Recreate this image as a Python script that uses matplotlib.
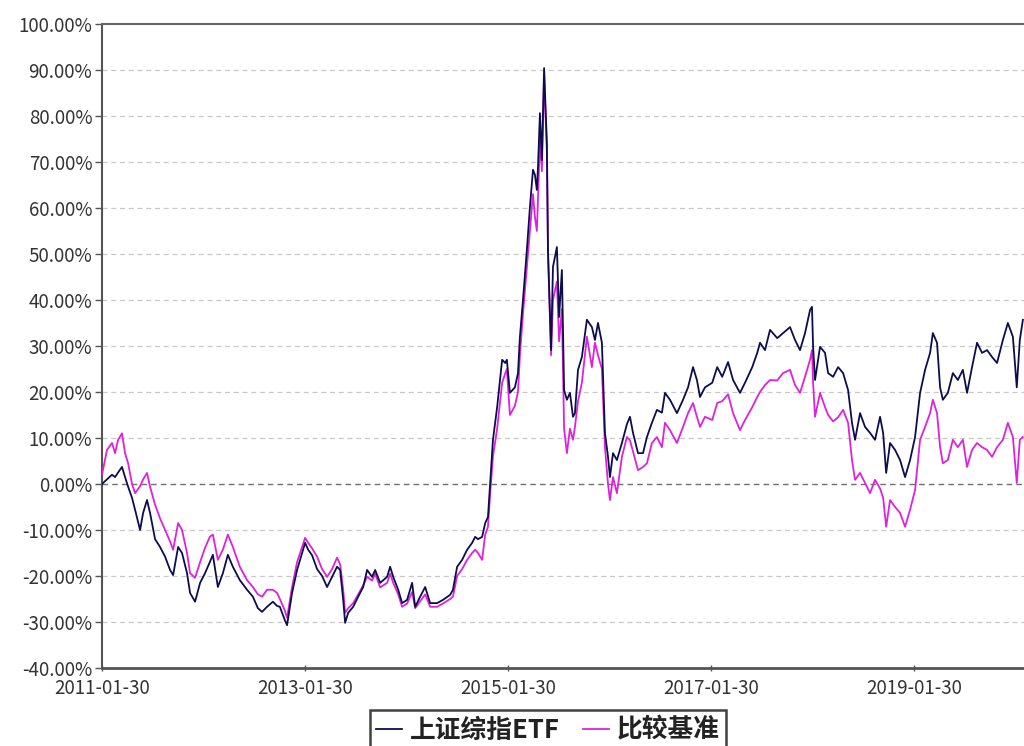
import pandas as pd
import matplotlib
matplotlib.use('Agg')
from matplotlib import pyplot as plt
from matplotlib.ticker import FuncFormatter

plt.rcParams['font.family'] = ['Noto Sans CJK SC', 'DejaVu Sans']

# data (cumulative return, %)
dates = [
    '2011-01-30', '2011-02-17', '2011-03-07', '2011-03-18', '2011-03-29', '2011-04-12', '2011-04-23', '2011-05-04', '2011-05-18', '2011-05-29',
    '2011-06-16', '2011-06-27', '2011-07-11', '2011-07-22', '2011-08-09', '2011-08-27', '2011-09-14', '2011-10-02', '2011-10-13', '2011-10-31',
    '2011-11-14', '2011-12-02', '2011-12-13', '2011-12-31', '2012-01-18',
    '2012-02-04', '2012-02-22', '2012-03-04', '2012-03-22', '2012-04-09', '2012-04-27', '2012-05-15', '2012-06-09', '2012-07-05', '2012-07-26',
    '2012-08-13', '2012-08-28', '2012-09-15', '2012-10-06', '2012-10-21', '2012-10-31', '2012-11-18', '2012-11-26', '2012-12-14', '2013-01-01', '2013-01-19',
    '2013-01-30', '2013-02-10', '2013-02-24', '2013-03-14', '2013-04-01', '2013-04-19', '2013-05-07', '2013-05-25', '2013-06-05', '2013-06-16', '2013-06-23',
    '2013-07-04', '2013-07-22', '2013-08-09', '2013-08-27', '2013-09-10', '2013-09-28', '2013-10-09', '2013-10-27', '2013-11-21', '2013-12-02', '2013-12-13', '2013-12-31', '2014-01-14',
    '2014-02-01', '2014-02-19', '2014-03-02', '2014-03-20', '2014-04-07', '2014-04-25', '2014-05-20', '2014-06-10', '2014-07-06', '2014-07-16', '2014-07-31',
    '2014-08-18', '2014-09-05', '2014-09-23', '2014-10-04', '2014-10-14', '2014-10-29', '2014-11-09', '2014-11-19', '2014-11-27', '2014-12-07', '2014-12-22', '2015-01-09', '2015-01-20', '2015-01-26',
    '2015-02-06', '2015-02-24', '2015-03-07', '2015-03-14', '2015-03-25', '2015-04-08', '2015-04-19', '2015-04-30', '2015-05-07', '2015-05-14', '2015-05-18', '2015-05-25', '2015-06-01', '2015-06-09', '2015-06-19', '2015-06-23',
    '2015-07-04', '2015-07-11', '2015-07-25', '2015-08-02', '2015-08-12', '2015-08-20', '2015-08-30', '2015-09-10', '2015-09-21', '2015-09-28', '2015-10-09', '2015-10-23', '2015-11-10', '2015-11-28', '2015-12-09', '2015-12-20', '2016-01-03', '2016-01-14', '2016-01-25',
    '2016-02-01', '2016-02-12', '2016-02-26', '2016-03-15', '2016-04-02', '2016-04-13', '2016-04-24', '2016-05-12', '2016-05-30', '2016-06-13', '2016-07-01', '2016-07-19', '2016-08-06', '2016-08-17', '2016-09-04', '2016-09-29', '2016-10-21', '2016-11-08', '2016-11-26', '2016-12-10', '2016-12-21', '2017-01-08',
    '2017-02-03', '2017-02-21', '2017-03-11', '2017-04-01', '2017-04-19', '2017-05-14', '2017-06-01', '2017-06-27', '2017-07-15', '2017-07-25', '2017-08-12', '2017-08-30', '2017-09-25', '2017-10-16', '2017-11-10', '2017-11-28', '2017-12-16', '2018-01-03', '2018-01-21', '2018-01-28',
    '2018-02-01', '2018-02-08', '2018-02-26', '2018-03-16', '2018-03-27', '2018-04-14', '2018-05-02', '2018-05-20', '2018-06-07', '2018-06-21', '2018-07-02', '2018-07-20', '2018-08-07', '2018-08-25', '2018-09-12', '2018-09-30', '2018-10-11', '2018-10-22', '2018-11-05', '2018-11-23', '2018-12-11', '2018-12-29', '2019-01-16',
    '2019-02-03', '2019-02-21', '2019-03-11', '2019-03-29', '2019-04-08', '2019-04-23', '2019-05-04', '2019-05-14', '2019-06-01', '2019-06-19', '2019-07-07', '2019-07-25', '2019-08-09', '2019-08-27', '2019-09-14', '2019-10-02', '2019-10-20', '2019-11-07', '2019-11-25', '2019-12-16', '2020-01-03', '2020-01-21', '2020-02-04', '2020-02-15', '2020-02-26',
]

etf_ret = [
    0, 1, 2, 1.5, 2.5, 3.7, 1.5, -0.6, -3, -5.6,
    -10, -6.3, -3.5, -6.3, -12, -13.7, -15.8, -18.7, -19.8, -13.7,
    -15, -19.4, -23.7, -25.6, -21.5,
    -19.5, -17, -15.4, -22.4, -19.4, -15.4, -18, -20.9, -23, -24.5,
    -27, -27.8, -26.7, -25.6, -26.5, -26.7, -29.6, -30.7, -23.7, -18.7, -15,
    -12.8, -14.3, -15.5, -18.5, -20, -22.4, -20.2, -18, -18.7, -25.2, -30.2,
    -28, -26.7, -24.5, -22.4, -18.7, -20.2, -18.7, -21.5, -20.2, -18, -20.2, -23, -25.9,
    -25.2, -21.5, -26.7, -24.5, -22.4, -25.9, -25.9, -25.2, -24.1, -23, -18,
    -16.5, -14.3, -12.8, -11.5, -12, -11.5, -8.5, -7.2, 0.2, 9.6, 16.7, 27, 26.3, 27,
    19.8, 21, 24.1, 32, 40, 50.9, 60.2, 68.3, 67.2, 63.9, 68.9, 80.6, 70.4, 90.4, 74.1, 50.9,
    29.1, 47.2, 51.5, 36.3, 46.5, 20.4, 18.3, 19.8, 14.6, 15.4, 24.8, 27.6, 35.7, 34.1, 31.3, 35, 30.7, 11.1, 5.9,
    1.5, 6.7, 5.2, 8.9, 13, 14.6, 11.1, 6.7, 6.7, 10.2, 13.3, 16.1, 15.5, 19.8, 18.3, 15.4, 18.3, 21, 25.4, 22.6, 18.9, 21,
    22, 25.4, 23.3, 26.5, 22.6, 19.8, 22, 25.4, 28.5, 30.7, 29.1, 33.5, 31.7, 32.8, 34.1, 31.3, 29.1, 32.8, 37.8, 38.5,
    29.8, 22.6, 29.8, 28.5, 24.1, 23.3, 25.4, 24.1, 20.4, 13.3, 9.6, 15.4, 12.4, 11.1, 9.6, 14.6, 11.1, 2.4, 8.9, 7.4, 5.2, 1.5, 5.2,
    10.2, 19.8, 24.8, 28.5, 32.8, 30.7, 21, 18.3, 19.8, 24.1, 22.6, 24.8, 19.8, 25.4, 30.7, 28.5, 29.1, 27.6, 26.3, 31.3, 35, 32, 21, 31.3, 35.7,
]

bench_ret = [
    2, 7.4, 8.9, 6.7, 9.6, 11, 6.7, 4.5, 0, -2,
    -0.5, 1, 2.4, -0.6, -4.5, -7.5, -10, -12.5, -14.3, -8.5,
    -10, -15, -19.4, -20.4, -17,
    -14, -11.5, -11, -16.5, -14.3, -11, -13.7, -18, -20.9, -22.4,
    -24, -24.5, -23, -23, -23.7, -25, -27.5, -29.1, -22.4, -17, -13.7,
    -11.7, -12.8, -14, -15.8, -18.5, -20.2, -18.5, -16, -17.5, -23, -28,
    -27, -25.9, -24, -22, -20.2, -21, -19.5, -22.5, -21.5, -19.5, -21.5, -24, -26.7,
    -26, -23.5, -27, -25.5, -24, -26.7, -26.7, -26, -25, -24.5, -20,
    -18.5, -16.5, -15, -14.3, -15, -16.5, -11, -9.3, -2, 6, 12, 22, 24, 25,
    15, 17, 20, 28, 37, 47, 55, 63, 58, 55, 62, 75, 68, 89, 72, 50,
    28, 40, 44, 31, 38, 12, 6.7, 12, 9.6, 12.4, 18, 22, 32, 25.4, 30.7, 28, 25, 8, 0,
    -3.5, 1.5, -2, 5.9, 10.2, 9.5, 7, 3, 3.7, 4.5, 8.9, 10.2, 8, 13.3, 11.7, 8.9, 12.4, 15.4, 17.6, 14.6, 12.4, 14.6,
    13.9, 17.6, 18, 19.5, 15.4, 11.7, 13.9, 16.7, 18.9, 20, 21.5, 22.6, 22.5, 24.1, 24.8, 21.5, 19.8, 23.3, 27, 29.1,
    22, 14.6, 19.8, 16.7, 15, 13.6, 14.5, 16.1, 13.3, 5.2, 0.9, 2.4, 0.2, -2, 0.9, -1, -3, -9.3, -3.5, -5, -6.3, -9.3, -5.6,
    -1.3, 9.6, 12.4, 15.4, 18.3, 15.4, 8, 4.5, 5.2, 9.6, 8, 9.6, 3.7, 7.4, 8.9, 8, 7.4, 5.9, 8, 9.6, 13.3, 10.2, 0.2, 9.6, 10.2,
]

tick_dates = ['2011-01-30', '2013-01-30', '2015-01-30', '2017-01-30', '2019-01-30']
series_names = ['上证综指ETF', '比较基准']

x = pd.to_datetime(dates)

fig = plt.figure(figsize=(10.24, 7.46), dpi=100)
ax = fig.add_axes([0.0996, 0.1046, 0.9004, 0.8633])

# grid lines
for v in range(-30, 100, 10):
    if v == 0:
        ax.axhline(v, color='#707070', lw=1.0, ls=(0, (4, 3)), zorder=1)
    else:
        ax.axhline(v, color='#c8c8c8', lw=0.9, ls=(0, (4, 3)), zorder=1)

ax.plot(x, bench_ret, color='#dd22dd', lw=1.3, label=series_names[1], zorder=3)
ax.plot(x, etf_ret, color='#0d0d4d', lw=1.3, label=series_names[0], zorder=4)

ax.set_ylim(-40, 100)
ax.set_xlim(pd.Timestamp('2011-01-30'), pd.Timestamp('2020-03-01'))
ax.set_yticks(range(-40, 101, 10))
ax.yaxis.set_major_formatter(FuncFormatter(lambda v, p: '%.2f%%' % v))
ax.set_xticks(pd.to_datetime(tick_dates))
ax.set_xticklabels(tick_dates)

ax.spines['right'].set_visible(False)
ax.spines['top'].set_color('#666666')
ax.spines['top'].set_linewidth(1.5)
ax.spines['left'].set_color('#555555')
ax.spines['left'].set_linewidth(1.5)
ax.spines['bottom'].set_color('#555555')
ax.spines['bottom'].set_linewidth(2.0)

ax.tick_params(axis='y', direction='out', length=5, width=1, color='#555555',
               labelsize=13.5, labelcolor='#333333', pad=2)
ax.tick_params(axis='x', direction='inout', length=4, width=1, color='#555555',
               labelsize=13.5, labelcolor='#333333', pad=5)

handles, labels = ax.get_legend_handles_labels()
leg = fig.legend(handles[::-1], labels[::-1], loc='upper center', bbox_to_anchor=(0.535, 0.048),
                 ncol=2, frameon=True, fancybox=False, fontsize=18.5, handlelength=1.0,
                 handletextpad=0.3, columnspacing=0.9, borderpad=0.25, borderaxespad=0)
leg.get_frame().set_edgecolor('#111111')
leg.get_frame().set_linewidth(1.8)
for t in leg.get_texts():
    t.set_color('#222222')
    t.set_fontweight('bold')

fig.savefig('out.png', dpi=100)
